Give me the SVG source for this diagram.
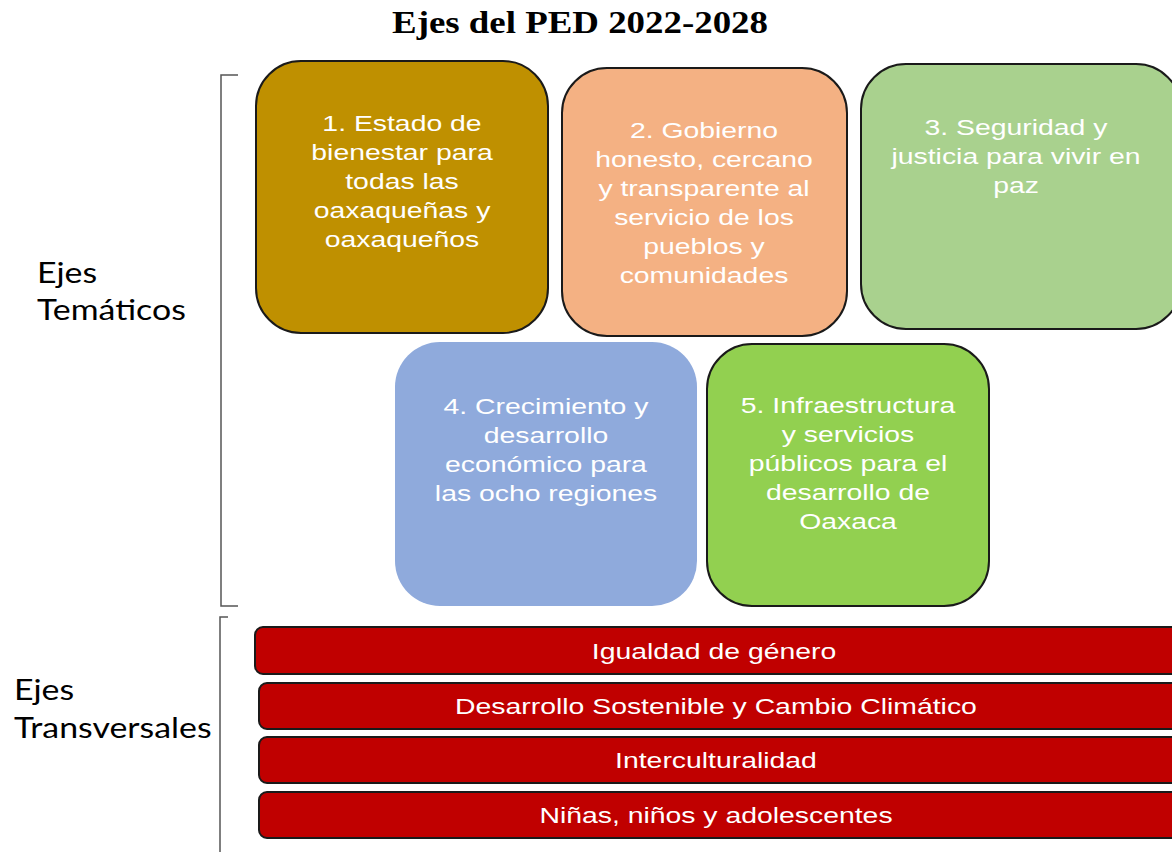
<svg xmlns="http://www.w3.org/2000/svg" width="1172" height="852" viewBox="0 0 1172 852">
<style>
.box{stroke:#1a1a1a;stroke-width:2}
.bt{font-family:"Liberation Sans",Arial,sans-serif;font-size:22px;fill:#fff;text-anchor:middle}
.bar{fill:#c00000;stroke:#1a1a1a;stroke-width:2}
.lab{font-family:"Lato","Open Sans",sans-serif;font-size:28px;fill:#000}
.br{fill:none;stroke:#555;stroke-width:1.5}
</style>
<rect width="1172" height="852" fill="#fff"/>
<g transform="translate(580,0) scale(1.19,1)"><text x="0" y="33" font-family="'Liberation Serif',serif" font-weight="bold" font-size="31" text-anchor="middle" fill="#000">Ejes del PED 2022-2028</text></g>
<g id="connectors">
<path class="br" d="M238 75 H221 V606 H238"/>
<path class="br" d="M228 617 H220 V852"/>
</g>
<g id="lab-tematicos" transform="translate(37,0) scale(1.21,1)"><text class="lab" x="0" y="283">Ejes</text><text class="lab" x="0" y="320">Temáticos</text></g>
<g id="lab-transversales" transform="translate(14,0) scale(1.21,1)"><text class="lab" x="0" y="700">Ejes</text><text class="lab" x="0" y="738">Transversales</text></g>
<g id="eje1"><rect class="box" x="256" y="61" width="292" height="272" rx="45" fill="#bf9000"/>
<g transform="translate(402,0) scale(1.29,1)"><text class="bt"><tspan x="0" y="131">1. Estado de</tspan><tspan x="0" y="160">bienestar para</tspan><tspan x="0" y="189">todas las</tspan><tspan x="0" y="218">oaxaqueñas y</tspan><tspan x="0" y="247">oaxaqueños</tspan></text></g></g>
<g id="eje2"><rect class="box" x="562" y="68" width="285" height="268" rx="45" fill="#f4b183"/>
<g transform="translate(704,0) scale(1.29,1)"><text class="bt"><tspan x="0" y="138">2. Gobierno</tspan><tspan x="0" y="167">honesto, cercano</tspan><tspan x="0" y="196">y transparente al</tspan><tspan x="0" y="225">servicio de los</tspan><tspan x="0" y="254">pueblos y</tspan><tspan x="0" y="283">comunidades</tspan></text></g></g>
<g id="eje3"><rect class="box" x="861" y="64" width="320" height="265" rx="45" fill="#a9d18e"/>
<g transform="translate(1016,0) scale(1.29,1)"><text class="bt"><tspan x="0" y="135">3. Seguridad y</tspan><tspan x="0" y="164">justicia para vivir en</tspan><tspan x="0" y="193">paz</tspan></text></g></g>
<g id="eje4"><rect x="395" y="342" width="302" height="264" rx="45" fill="#8faadc"/>
<g transform="translate(546,0) scale(1.29,1)"><text class="bt"><tspan x="0" y="414">4. Crecimiento y</tspan><tspan x="0" y="443">desarrollo</tspan><tspan x="0" y="472">económico para</tspan><tspan x="0" y="501">las ocho regiones</tspan></text></g></g>
<g id="eje5"><rect class="box" x="707" y="344" width="282" height="262" rx="45" fill="#92d050"/>
<g transform="translate(848,0) scale(1.29,1)"><text class="bt"><tspan x="0" y="413">5. Infraestructura</tspan><tspan x="0" y="442">y servicios</tspan><tspan x="0" y="471">públicos para el</tspan><tspan x="0" y="500">desarrollo de</tspan><tspan x="0" y="529">Oaxaca</tspan></text></g></g>
<g id="t1"><rect class="bar" x="255" y="627" width="930" height="47" rx="8"/><g transform="translate(714,0) scale(1.29,1)"><text class="bt" x="0" y="659">Igualdad de género</text></g></g>
<g id="t2"><rect class="bar" x="259" y="683" width="926" height="46" rx="8"/><g transform="translate(716,0) scale(1.29,1)"><text class="bt" x="0" y="714">Desarrollo Sostenible y Cambio Climático</text></g></g>
<g id="t3"><rect class="bar" x="259" y="737" width="926" height="46" rx="8"/><g transform="translate(716,0) scale(1.29,1)"><text class="bt" x="0" y="768">Interculturalidad</text></g></g>
<g id="t4"><rect class="bar" x="259" y="792" width="926" height="46" rx="8"/><g transform="translate(716,0) scale(1.29,1)"><text class="bt" x="0" y="823">Niñas, niños y adolescentes</text></g></g>
</svg>
